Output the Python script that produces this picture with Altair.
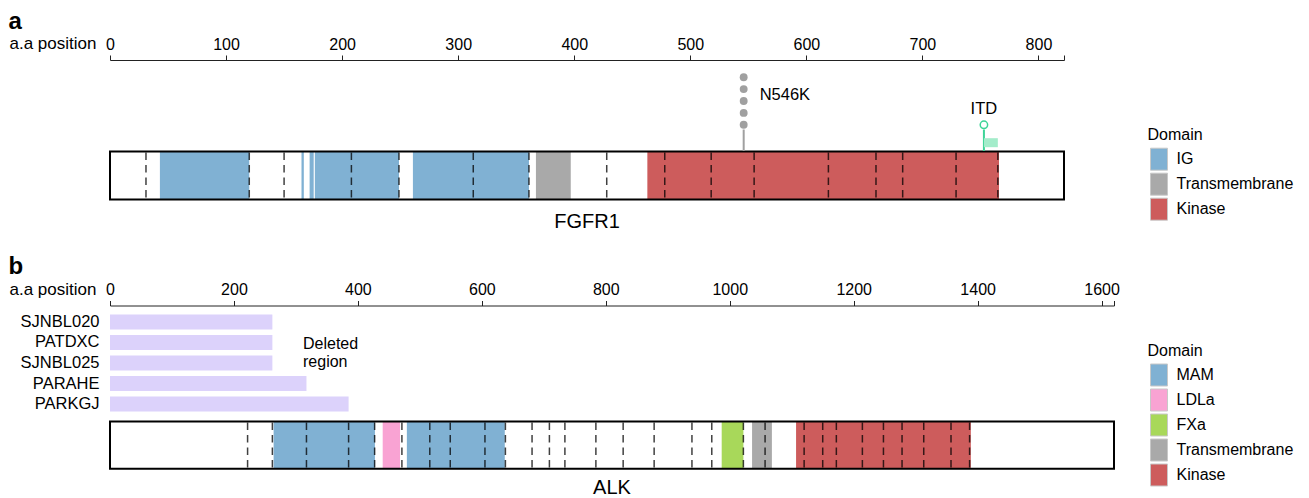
import altair as alt
import pandas as pd

FONT = "Liberation Sans"

# ---------------- panel a : FGFR1 ----------------
fgfr1_length = 822
fgfr1_ticks = [0, 100, 200, 300, 400, 500, 600, 700, 800]
fgfr1_domain_names = ["IG", "IG", "IG", "IG", "IG", "Transmembrane", "Kinase"]
fgfr1_domain_starts = [43, 165, 172, 176.5, 261, 367, 463]
fgfr1_domain_ends = [120, 167, 175.5, 249, 361, 397, 766]
fgfr1_exon_bounds = [31, 120, 150, 208, 249, 313, 361, 428, 478, 518, 555,
                     619, 660, 683, 729, 765]
fgfr1_mut_labels = ["N546K", "ITD"]
fgfr1_mut_positions = [546, 753]
fgfr1_mut_counts = [5, 1]
fgfr1_itd_start = [753]
fgfr1_itd_end = [765]
fgfr1_legend = ["IG", "Transmembrane", "Kinase"]

# ---------------- panel b : ALK ----------------
alk_length = 1620
alk_ticks = [0, 200, 400, 600, 800, 1000, 1200, 1400, 1600]
alk_domain_names = ["MAM", "LDLa", "MAM", "FXa", "Transmembrane", "Kinase"]
alk_domain_starts = [264, 440, 479, 987, 1036, 1107]
alk_domain_ends = [427.5, 468, 637, 1022, 1068, 1389]
alk_exon_bounds = [222, 262, 317, 385, 427, 471, 516, 549, 605, 638, 681, 709,
                   734, 784, 828, 878, 939, 971, 1022, 1057, 1120, 1150, 1172,
                   1214, 1248, 1278, 1313, 1357, 1387]
del_samples = ["SJNBL020", "PATDXC", "SJNBL025", "PARAHE", "PARKGJ"]
del_starts = [0, 0, 0, 0, 0]
del_ends = [262, 262, 262, 317, 385]
alk_legend = ["MAM", "LDLa", "FXa", "Transmembrane", "Kinase"]

# ---------------- styles ----------------
COLORS = {"IG": "#80b1d3", "MAM": "#80b1d3", "LDLa": "#f9a3d3", "FXa": "#a8d85a",
          "Transmembrane": "#a9a9a9", "Kinase": "#cd5c5c"}
GRAY = "#a0a0a0"
GREEN = "#3dd497"
FLAG = "#a3ecca"
LAVENDER = "#dcd2fb"
SWATCH = "M-0.773,-1H0.773V1H-0.773Z"


def x_enc(field, length, ticks):
    return alt.X(
        f"{field}:Q",
        scale=alt.Scale(domain=[0, length], nice=False, zero=False),
        axis=alt.Axis(
            orient="top", values=ticks + [length], format="d",
            labelExpr=f"datum.value > {ticks[-1]} ? '' : datum.label",
            domainColor="#222222", domainWidth=1, tickColor="#222222",
            tickWidth=1, tickSize=5, labelFontSize=16, labelFont=FONT,
            labelColor="black", labelPadding=6, labelBaseline="alphabetic",
            labelFlush=False, labelOverlap=False, grid=False, title=None),
        title=None)


def legend(x, y):
    return alt.Legend(
        title="Domain", orient="none", legendX=x, legendY=y,
        symbolType=SWATCH, symbolSize=484, symbolStrokeColor="#c8c8c8",
        symbolStrokeWidth=1, symbolOpacity=1, labelFontSize=16, labelFont=FONT,
        labelColor="black", titleFontSize=16, titleFont=FONT,
        titleFontWeight="normal", titleColor="black", titlePadding=5,
        rowPadding=-4.5, labelOffset=6, labelLimit=300)


def protein_layers(name, length, ticks, dom_names, dom_starts, dom_ends, exons,
                   legend_order, ytop, ybot, name_y, leg_x, leg_y):
    dom = pd.DataFrame({"Domain": dom_names, "start": dom_starts, "end": dom_ends})
    ex = pd.DataFrame({"pos": exons})
    body = pd.DataFrame({"start": [0], "end": [length], "name": [name],
                         "mid": [length / 2]})
    fills = alt.Chart(dom).mark_rect().encode(
        x=x_enc("start", length, ticks), x2=alt.X2("end:Q"),
        y=alt.value(ytop), y2=alt.value(ybot),
        color=alt.Color("Domain:N",
                        scale=alt.Scale(domain=legend_order,
                                        range=[COLORS[d] for d in legend_order]),
                        legend=legend(leg_x, leg_y)))
    dashes = alt.Chart(ex).mark_rule(
        strokeDash=[7.5, 5], color="black", opacity=0.75, strokeWidth=1.5
    ).encode(x=x_enc("pos", length, ticks), y=alt.value(ytop + 1),
             y2=alt.value(ybot - 1))
    outline = alt.Chart(body).mark_rect(
        fillOpacity=0, stroke="black", strokeWidth=2
    ).encode(x=x_enc("start", length, ticks), x2=alt.X2("end:Q"),
             y=alt.value(ytop), y2=alt.value(ybot))
    label = alt.Chart(body).mark_text(
        font=FONT, fontSize=20, align="center", baseline="alphabetic",
        color="black"
    ).encode(x=x_enc("mid", length, ticks), y=alt.value(name_y), text="name:N")
    return [fills, dashes, outline, label]


def corner_text(letter, ly, ty):
    df = pd.DataFrame({"letter": [letter], "axis": ["a.a position"]})
    a = alt.Chart(df).mark_text(
        font=FONT, fontSize=24, fontWeight="bold", align="left",
        baseline="alphabetic", color="black"
    ).encode(x=alt.value(-101.5), y=alt.value(ly), text="letter:N")
    b = alt.Chart(df).mark_text(
        font=FONT, fontSize=17, align="left", baseline="alphabetic",
        color="black"
    ).encode(x=alt.value(-100.5), y=alt.value(ty), text="axis:N")
    return [a, b]


# ---------- panel a ----------
mut = pd.DataFrame({"label": fgfr1_mut_labels, "pos": fgfr1_mut_positions,
                    "count": fgfr1_mut_counts})
dot_rows = []
for lab, pos, cnt in zip(fgfr1_mut_labels, fgfr1_mut_positions, fgfr1_mut_counts):
    for k in range(1, cnt + 1):
        dot_rows.append({"label": lab, "pos": pos, "k": k})
dots = pd.DataFrame(dot_rows)
itd = pd.DataFrame({"start": fgfr1_itd_start, "end": fgfr1_itd_end})

yk = alt.Y("k:Q", scale=alt.Scale(domain=[0, max(fgfr1_mut_counts)],
                                  range=[76.7, 17.2]), axis=None)
XA = lambda f: x_enc(f, fgfr1_length, fgfr1_ticks)

stems = alt.Chart(mut).mark_rule(strokeWidth=2).encode(
    x=XA("pos"), y=alt.value(69.5), y2=alt.value(91),
    color=alt.condition("datum.label == 'ITD'", alt.value(GREEN), alt.value(GRAY)))
flag = alt.Chart(itd).mark_rect(color=FLAG).encode(
    x=XA("start"), x2=alt.X2("end:Q"), y=alt.value(78.2), y2=alt.value(87.2))
filled_dots = alt.Chart(dots).transform_filter("datum.label != 'ITD'").mark_circle(
    size=62, color=GRAY, opacity=1).encode(x=XA("pos"), y=yk)
open_dot = alt.Chart(dots).transform_filter("datum.label == 'ITD'").mark_point(
    shape="circle", filled=False, size=55, strokeWidth=1.5, color=GREEN,
    opacity=1).encode(x=XA("pos"), y=yk)
lab_mis = alt.Chart(mut).transform_filter("datum.label != 'ITD'").mark_text(
    font=FONT, fontSize=16.5, align="left", baseline="alphabetic", dx=16,
    color="black").encode(x=XA("pos"), y=alt.value(39.8), text="label:N")
lab_itd = alt.Chart(mut).transform_filter("datum.label == 'ITD'").mark_text(
    font=FONT, fontSize=16.5, align="center", baseline="alphabetic",
    color="black").encode(x=XA("pos"), y=alt.value(53.5), text="label:N")

panel_a = alt.layer(
    *protein_layers("FGFR1", fgfr1_length, fgfr1_ticks, fgfr1_domain_names,
                    fgfr1_domain_starts, fgfr1_domain_ends, fgfr1_exon_bounds,
                    fgfr1_legend, 91.5, 139.5, 167.5, 1037.5, 66.7),
    stems, flag, filled_dots, open_dot, lab_mis, lab_itd,
    *corner_text("a", -30.8, -11),
).properties(width=954, height=175)

# ---------- panel b ----------
dels = pd.DataFrame({"sample": del_samples, "start": del_starts, "end": del_ends})
XB = lambda f: x_enc(f, alk_length, alk_ticks)
bars = alt.Chart(dels).mark_bar(color=LAVENDER).encode(
    x=XB("start"), x2=alt.X2("end:Q"),
    y=alt.Y("sample:N", sort=del_samples,
            scale=alt.Scale(range=[9, 106], paddingInner=0.27, paddingOuter=0),
            axis=alt.Axis(orient="left", domain=False, ticks=False, tickSize=0,
                          labelPadding=11, labelFontSize=16.5, labelFont=FONT,
                          labelColor="black", grid=False, title=None)))
note = alt.Chart(pd.DataFrame({"t": ["Deleted region"]})).mark_text(
    font=FONT, fontSize=16, align="left", baseline="alphabetic", color="black",
    text=["Deleted", "region"], lineHeight=18
).encode(x=alt.value(193), y=alt.value(43.3))

panel_b = alt.layer(
    bars, note,
    *protein_layers("ALK", alk_length, alk_ticks, alk_domain_names,
                    alk_domain_starts, alk_domain_ends, alk_exon_bounds,
                    alk_legend, 116, 163.3, 188.3, 1037.5, 37),
    *corner_text("b", -31.7, -11),
).properties(width=1004, height=185)

chart = alt.vconcat(panel_a, panel_b, spacing=19.5).resolve_scale(
    color="independent", x="independent", y="independent"
).resolve_legend(color="independent").properties(
    padding={"left": 0, "top": 2, "right": 5, "bottom": 0},
    background="white",
).configure_view(stroke=None)

chart.save("out.html", embed_options={"renderer": "svg", "actions": False})
